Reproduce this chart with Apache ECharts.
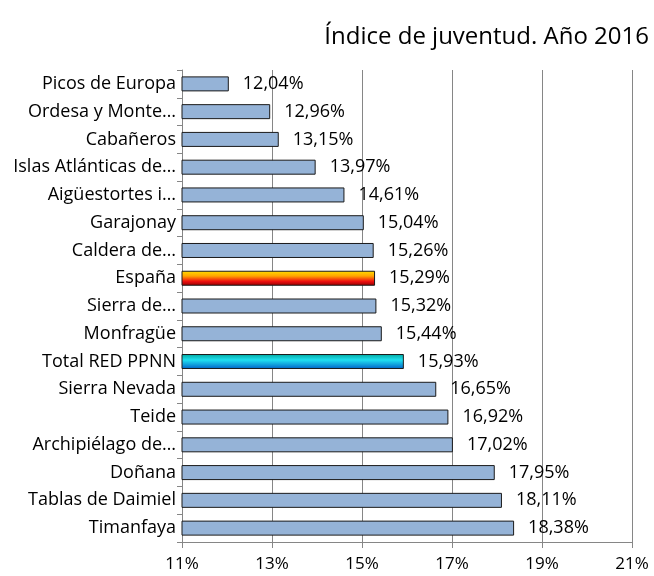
<!DOCTYPE html>
<html>
<head>
<meta charset="utf-8">
<script src="https://cdn.jsdelivr.net/npm/echarts@6/dist/echarts.min.js"></script>
<style>
html,body{margin:0;padding:0;background:#fff;}
#chart{width:654px;height:576px;}
</style>
</head>
<body>
<div id="chart"></div>
<script>
// parques, de arriba a abajo
var categories = ['Picos de Europa', 'Ordesa y Monte…', 'Cabañeros', 'Islas Atlánticas de…',
  'Aigüestortes i…', 'Garajonay', 'Caldera de…', 'España', 'Sierra de…', 'Monfragüe',
  'Total RED PPNN', 'Sierra Nevada', 'Teide', 'Archipiélago de…', 'Doñana',
  'Tablas de Daimiel', 'Timanfaya'];
var values = [12.04, 12.96, 13.15, 13.97, 14.61, 15.04, 15.26, 15.29, 15.32, 15.44,
  15.93, 16.65, 16.92, 17.02, 17.95, 18.11, 18.38];
var xTicks = [11, 13, 15, 17, 19, 21];

var font = 'Open Sans';
var barColor = '#95B3D7';

var espanaFill = new echarts.graphic.LinearGradient(0, 0, 0, 1, [
  {offset: 0, color: '#FFE000'},
  {offset: 0.35, color: '#FFA500'},
  {offset: 0.7, color: '#F01010'},
  {offset: 1, color: '#900000'}
]);
var totalFill = new echarts.graphic.LinearGradient(0, 0, 0, 1, [
  {offset: 0, color: '#00A8A0'},
  {offset: 0.4, color: '#20E0F0'},
  {offset: 1, color: '#0060C8'}
]);

function barData(){
  var out = [];
  for (var i = 0; i < values.length; i++){
    var fill = barColor;
    if (categories[i] == 'España') fill = espanaFill;
    if (categories[i] == 'Total RED PPNN') fill = totalFill;
    out.push({value: values[i], itemStyle: {color: fill}});
  }
  return out;
}

var chart = echarts.init(document.getElementById('chart'));
chart.setOption({
  animation: false,
  title: {
    text: 'Índice de juventud. Año 2016',
    right: 0, top: 20,
    textStyle: {fontFamily: font, fontSize: 24, fontWeight: 'normal', color: '#000'}
  },
  grid: {left: 182, right: 22, top: 70, bottom: 34, containLabel: false},
  xAxis: {
    type: 'value',
    min: xTicks[0], max: xTicks[xTicks.length - 1], interval: 2,
    axisLine: {show: true, lineStyle: {color: '#868686', width: 1}},
    axisTick: {show: true, length: 6, lineStyle: {color: '#868686'}},
    splitLine: {show: true, lineStyle: {color: '#868686', width: 1}},
    axisLabel: {
      formatter: '{value}%', margin: 14,
      fontFamily: font, fontSize: 17, color: '#000'
    }
  },
  yAxis: {
    type: 'category',
    inverse: true,
    data: categories,
    axisLine: {show: true, lineStyle: {color: '#868686', width: 1}},
    axisTick: {show: true, length: 5, lineStyle: {color: '#868686'}},
    axisLabel: {fontFamily: font, fontSize: 18, color: '#000', margin: 6}
  },
  series: [{
    type: 'bar',
    data: barData(),
    barWidth: 15,
    itemStyle: {borderColor: '#1a1a1a', borderWidth: 1},
    label: {
      show: true, position: 'right', distance: 14,
      fontFamily: font, fontSize: 18, color: '#000',
      formatter: function(p){ return p.value.toFixed(2).replace('.', ',') + '%'; }
    }
  }]
});
</script>
</body>
</html>
